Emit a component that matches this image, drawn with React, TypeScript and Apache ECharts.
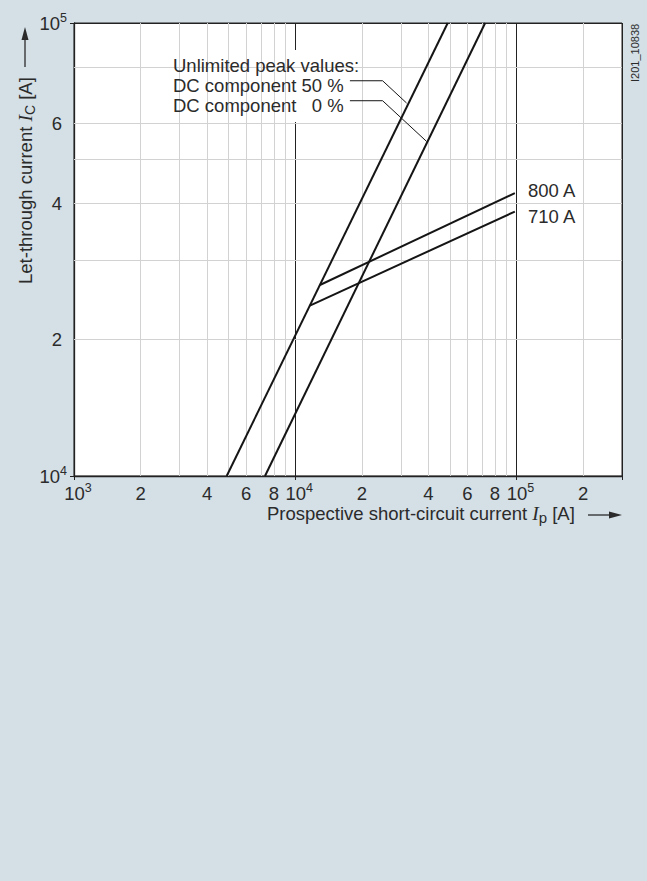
import React, { useEffect, useRef } from "react";
import * as echarts from "echarts";

// Vertical gridline values (A) and their tick labels
const xGridValues = [2000, 3000, 4000, 5000, 6000, 7000, 8000, 9000, 20000, 30000, 40000, 50000, 60000, 70000, 80000, 90000, 200000];
const xGridLabels = ["2", "", "4", "", "6", "", "8", "", "2", "", "4", "", "6", "", "8", "", "2"];
// Horizontal gridline values (A) and their tick labels
const yGridValues = [20000, 30000, 40000, 50000, 60000, 80000];
const yGridLabels = ["2", "", "4", "", "6", ""];

// Curves: [prospective current Ip, let-through current Ic]
const dc50: [number, number][] = [[4900, 10000], [48900, 100000]];
const dc0: [number, number][] = [[7300, 10000], [72200, 100000]];
const a800: [number, number][] = [[12930, 26400], [98350, 42130]];
const a710: [number, number][] = [[11650, 23780], [98350, 38350]];
// Leader lines for annotation
const lead50: [number, number][] = [[17670, 74560], [24830, 74560], [31870, 66580]];
const lead0: [number, number][] = [[17670, 67360], [24830, 67360], [39260, 54760]];

const FONT = "Liberation Sans, Arial, Helvetica, sans-serif";
const TXT = "#2b2b2b";
const BG = "#d4dfe6";
const FS = 18.5;

function decadeLabel(v: number): string {
  const n = Math.round(Math.log10(v));
  if (Math.abs(Math.log10(v) - n) > 1e-6) return "";
  return `{b|10}{s|${n}}`;
}

const decadeRich = {
  b: { fontSize: FS, lineHeight: 24, color: TXT, fontFamily: FONT },
  s: { fontSize: 12.5, verticalAlign: "top", color: TXT, fontFamily: FONT },
};

export default function App() {
  const ref = useRef<HTMLDivElement>(null);
  useEffect(() => {
    if (!ref.current) return;
    const chart = echarts.init(ref.current, undefined, { renderer: "svg" });
    const markData: any[] = [];
    xGridValues.forEach((v, i) => {
      markData.push({
        xAxis: v,
        name: xGridLabels[i],
        label: { show: xGridLabels[i] !== "", position: "start", distance: 8 },
      });
    });
    yGridValues.forEach((v, i) => {
      markData.push({
        yAxis: v,
        name: yGridLabels[i],
        label: { show: yGridLabels[i] !== "", position: "start", distance: 12 },
      });
    });
    const curve = (name: string, data: [number, number][], width: number) => ({
      name,
      type: "line",
      data,
      symbol: "none",
      z: 10,
      silent: true,
      lineStyle: { color: "#151515", width },
      clip: true,
    });
    chart.setOption({
      animation: false,
      backgroundColor: BG,
      textStyle: { fontFamily: FONT },
      grid: {
        left: 74,
        top: 23,
        right: 25,
        bottom: 405,
        show: true,
        backgroundColor: "#ffffff",
        borderColor: "#222",
        borderWidth: 1,
        containLabel: false,
      },
      xAxis: {
        type: "log",
        logBase: 10,
        min: 1000,
        max: 300000,
        axisLine: { show: true, onZero: false, lineStyle: { color: "#222", width: 1.3 } },
        axisTick: { show: true, length: 4, lineStyle: { color: "#222" } },
        splitLine: { show: true, lineStyle: { color: "#222", width: 1 } },
        minorTick: { show: false },
        minorSplitLine: { show: false },
        axisLabel: { formatter: decadeLabel, rich: decadeRich, margin: 5, color: TXT, padding: [0, 0, 0, 8] },
      },
      yAxis: {
        type: "log",
        logBase: 10,
        min: 10000,
        max: 100000,
        axisLine: { show: true, onZero: false, lineStyle: { color: "#222", width: 1.3 } },
        axisTick: { show: true, length: 4, lineStyle: { color: "#222" } },
        splitLine: { show: true, lineStyle: { color: "#222", width: 1 } },
        minorTick: { show: false },
        minorSplitLine: { show: false },
        axisLabel: { formatter: decadeLabel, rich: decadeRich, margin: 7, color: TXT },
      },
      series: [
        {
          name: "grid",
          type: "line",
          data: [],
          z: 1,
          silent: true,
          markLine: {
            silent: true,
            animation: false,
            symbol: ["none", "none"],
            lineStyle: { color: "#d2d2d2", width: 1, type: "solid" },
            label: { formatter: "{b}", fontSize: FS, color: TXT, fontFamily: FONT },
            emphasis: { disabled: true },
            data: markData,
          },
        },
        curve("DC component 50 %", dc50, 2),
        curve("DC component 0 %", dc0, 2),
        curve("800 A", a800, 2),
        curve("710 A", a710, 2),
        curve("leader 50", lead50, 1),
        curve("leader 0", lead0, 1),
      ],
      graphic: [
        { type: "rect", z: 5, silent: true, shape: { x: 145, y: 50, width: 255, height: 72 }, style: { fill: "#ffffff" } },
        {
          type: "text",
          z: 6,
          x: 173,
          y: 55,
          silent: true,
          style: {
            text: "Unlimited peak values:\nDC component 50 %\nDC component   0 %",
            fontSize: FS,
            lineHeight: 20,
            fontFamily: FONT,
            fill: TXT,
            align: "left",
            verticalAlign: "top",
          },
        },
        { type: "text", z: 6, x: 528, y: 190, silent: true, style: { text: "800 A", fontSize: FS, fontFamily: FONT, fill: TXT, align: "left", verticalAlign: "middle" } },
        { type: "text", z: 6, x: 528, y: 216, silent: true, style: { text: "710 A", fontSize: FS, fontFamily: FONT, fill: TXT, align: "left", verticalAlign: "middle" } },
        {
          type: "text",
          z: 6,
          x: 267,
          y: 513,
          silent: true,
          style: {
            text: "Prospective short-circuit current {i|I}{p|p} [A]",
            fontSize: FS,
            lineHeight: 24,
            fontFamily: FONT,
            fill: TXT,
            align: "left",
            verticalAlign: "middle",
            rich: {
              i: { fontFamily: "Liberation Serif, Times New Roman, serif", fontStyle: "italic", fontSize: 19.5, fill: TXT },
              p: { fontSize: 15, verticalAlign: "bottom", fill: TXT, fontFamily: FONT },
            },
          },
        },
        { type: "line", z: 6, silent: true, shape: { x1: 588, y1: 515, x2: 612, y2: 515 }, style: { stroke: TXT, lineWidth: 1.3 } },
        { type: "polygon", z: 6, silent: true, shape: { points: [[622, 515], [609, 511.5], [609, 518.5]] }, style: { fill: TXT } },
        {
          type: "text",
          z: 6,
          x: 25,
          y: 284,
          rotation: Math.PI / 2,
          silent: true,
          style: {
            text: "Let-through current {i|I}{c|C} [A]",
            fontSize: FS,
            lineHeight: 24,
            fontFamily: FONT,
            fill: TXT,
            align: "left",
            verticalAlign: "middle",
            rich: {
              i: { fontFamily: "Liberation Serif, Times New Roman, serif", fontStyle: "italic", fontSize: 19.5, fill: TXT },
              c: { fontSize: 14, verticalAlign: "bottom", fill: TXT, fontFamily: FONT },
            },
          },
        },
        { type: "line", z: 6, silent: true, shape: { x1: 25, y1: 67, x2: 25, y2: 37 }, style: { stroke: TXT, lineWidth: 1.3 } },
        { type: "polygon", z: 6, silent: true, shape: { points: [[25, 27], [21.5, 40], [28.5, 40]] }, style: { fill: TXT } },
        {
          type: "text",
          z: 6,
          x: 635,
          y: 82,
          rotation: Math.PI / 2,
          silent: true,
          style: { text: "I201_10838", fontSize: 11, fontFamily: FONT, fill: TXT, align: "left", verticalAlign: "middle" },
        },
      ],
    });
    return () => chart.dispose();
  }, []);
  return (
    <div
      ref={ref}
      style={{ position: "fixed", left: 0, top: 0, width: 647, height: 881, background: BG }}
    />
  );
}
